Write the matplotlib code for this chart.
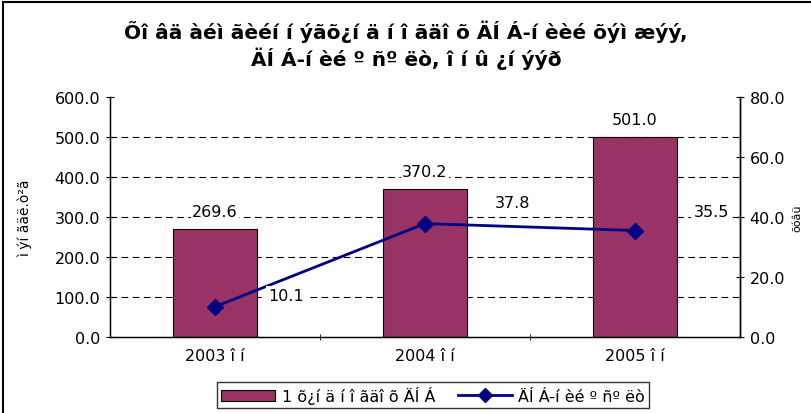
import matplotlib.pyplot as plt
from matplotlib.patches import Rectangle
from matplotlib.lines import Line2D
import numpy as np

# data
years = ['2003 î í', '2004 î í', '2005 î í']
gdp = [269.6, 370.2, 501.0]
growth = [10.1, 37.8, 35.5]

title = 'Õî âä àéì ãèéí í ýãõ¿í ä í î ãäî õ ÄÍ Á-í èèé õýì æýý,\nÄÍ Á-í èé º ñº ëò, î í û ¿í ýýð'
bar_name = '1 õ¿í ä í î ãäî õ ÄÍ Á'
line_name = 'ÄÍ Á-í èé º ñº ëò'
left_label = 'ì ýí ãäë.ò²ã'
right_label = 'õóâü'

bar_color = '#993366'
line_color = '#000080'

plt.rcParams['font.family'] = ['DejaVu Sans']
fs = 11.5

fig = plt.figure(figsize=(8.12, 4.14), dpi=100)
W, H = 812, 414
ax = fig.add_axes([110 / W, 1 - 338 / H, 630 / W, 240 / H])
ax2 = ax.twinx()

x = np.arange(len(years))
ax.bar(x, gdp, width=0.4, color=bar_color, edgecolor='black', linewidth=0.8, zorder=2)
ax.set_xlim(-0.5, 2.5)
ax.set_ylim(0, 600)
ax.set_yticks(np.arange(0, 601, 100))
ax.set_yticklabels(['%.1f' % v for v in np.arange(0, 601, 100)], fontsize=fs)
ax.set_xticks(x)
ax.set_xticklabels(years, fontsize=fs)
ax.set_xticks([0.5, 1.5], minor=True)
ax.tick_params(axis='x', which='major', length=0, pad=8)
ax.tick_params(axis='x', which='minor', length=5, direction='inout')
ax.tick_params(axis='y', length=6, direction='inout', pad=4)
for v in range(100, 600, 100):
    ax.axhline(v, color='black', lw=0.8, ls=(0, (6, 4)), zorder=1)
ax.spines['top'].set_visible(False)
ax2.spines['top'].set_visible(False)
for s in ['left', 'bottom', 'right']:
    ax.spines[s].set_linewidth(1.0)
ax2.spines['right'].set_linewidth(1.0)
ax.set_ylabel(left_label, fontsize=10, labelpad=16)

for xi, v in zip(x, gdp):
    ax.annotate('%.1f' % v, (xi, v), xytext=(0, 7), textcoords='offset points',
                ha='center', va='bottom', fontsize=fs, zorder=4,
                bbox=dict(boxstyle='square,pad=0.1', fc='white', ec='none'))

ax2.plot(x, growth, color=line_color, lw=2, marker='D', markersize=8, zorder=3)
ax2.set_ylim(0, 80)
ax2.set_yticks(np.arange(0, 81, 20))
ax2.set_yticklabels(['%.1f' % v for v in np.arange(0, 81, 20)], fontsize=fs)
ax2.tick_params(axis='y', length=6, direction='inout', pad=4)
ax2.set_ylabel(right_label, fontsize=8, rotation=90, labelpad=5)

offsets = [(51, 8), (63, 15), (55, 14)]
for xi, v, off in zip(x, growth, offsets):
    ax2.annotate('%.1f' % v, (xi, v), xytext=off, textcoords='offset points',
                 ha='center', va='center', fontsize=fs, zorder=5,
                 bbox=dict(boxstyle='square,pad=0.15', fc='white', ec='none'))

fig.text(0.5, 1 - 45 / H, title, ha='center', va='center', fontsize=14.5,
         fontweight='bold', linespacing=1.25)

handles = [Rectangle((0, 0), 1, 1, fc=bar_color, ec='black', lw=0.8),
           Line2D([], [], color=line_color, lw=2, marker='D', markersize=7)]
fig.legend(handles, [bar_name, line_name], loc='center',
           bbox_to_anchor=(433 / W, 1 - 396 / H), ncol=2, fontsize=fs,
           frameon=True, fancybox=False, edgecolor='black', handlelength=3.4,
           handletextpad=0.4, columnspacing=1.4, borderpad=0.25)

fig.patches.append(Rectangle((3 / W, -0.1), 1.2, 1 - 3 / H + 0.1, transform=fig.transFigure,
                             fill=False, ec='black', lw=1.5, figure=fig))

fig.savefig('out.png', dpi=100)
